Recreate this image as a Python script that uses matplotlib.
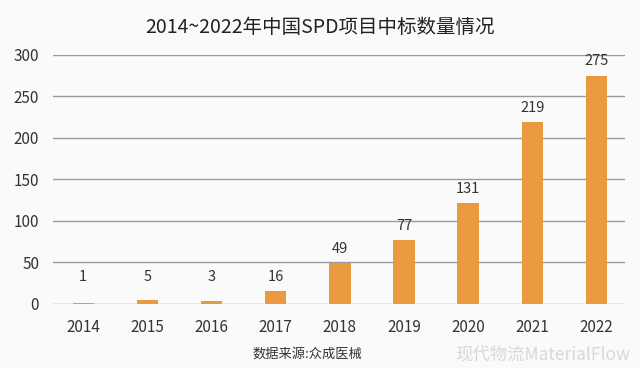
import matplotlib.pyplot as plt

plt.rcParams['font.family'] = ['Noto Sans CJK SC', 'DejaVu Sans']

# 数据
years = ["2014", "2015", "2016", "2017", "2018", "2019", "2020", "2021", "2022"]
bar_heights = [1, 5, 3, 16, 49, 77, 121, 219, 275]   # 图中柱子高度
labels = ["1", "5", "3", "16", "49", "77", "131", "219", "275"]  # 柱上标注
y_ticks = [0, 50, 100, 150, 200, 250, 300]

BAR_COLOR = "#EA9A3E"
TEXT_COLOR = "#333333"
BG = "#FAFAFA"

fig = plt.figure(figsize=(6.4, 3.68), dpi=100, facecolor=BG)
ax = fig.add_axes([0.083, 0.174, 0.894, 0.677], facecolor=BG)

x = list(range(len(years)))
ax.bar(x, bar_heights, width=0.335, color=BAR_COLOR, zorder=3)

for xi, h, lab in zip(x, bar_heights, labels):
    ax.text(xi, max(h, 15) + 17, lab, ha="center", va="center",
            fontsize=10.5, color=TEXT_COLOR, zorder=4)

ax.set_xlim(-0.47, 8.45)
ax.set_ylim(0, 300)
ax.set_yticks(y_ticks)
ax.set_xticks(x)
ax.set_xticklabels(years)
ax.tick_params(axis="both", length=0, labelsize=11, colors=TEXT_COLOR)
ax.tick_params(axis="x", pad=11)
ax.tick_params(axis="y", pad=10)
ax.yaxis.grid(True, color="#9a9a9a", linewidth=1.0, zorder=0)
for s in ax.spines.values():
    s.set_visible(False)

fig.text(0.5, 0.925, "2014~2022年中国SPD项目中标数量情况", ha="center", va="center",
         fontsize=14, fontweight="medium", color="#222222")
fig.text(0.395, 0.038, "数据来源:众成医械", ha="left", va="center",
         fontsize=9.5, color=TEXT_COLOR)
fig.text(0.985, 0.038, "现代物流MaterialFlow", ha="right", va="center",
         fontsize=12.5, color="#d8d8d8")

fig.savefig("out.png", dpi=100, facecolor=BG)
